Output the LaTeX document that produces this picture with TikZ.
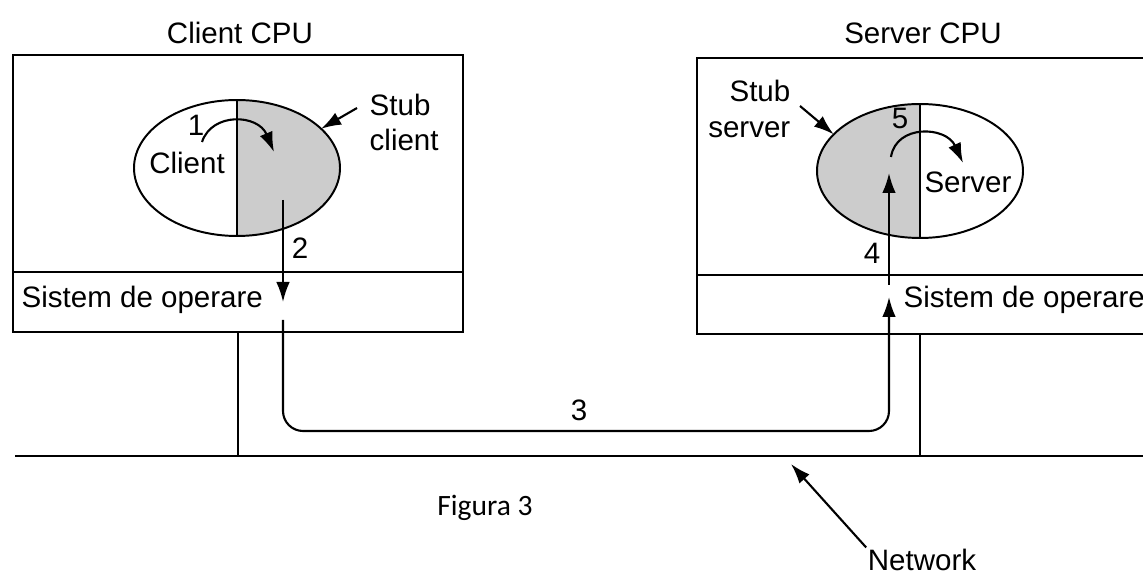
\documentclass[tikz,border=0pt]{standalone}
\usepackage{fontspec}
\setmainfont{Liberation Sans}
\newfontfamily\figfont{Carlito}
\usetikzlibrary{arrows.meta,positioning,calc,shapes.geometric}
\tikzset{
  cpu/.style      = {draw,line width=1.8pt,inner sep=0pt,outer sep=0pt},
  proc/.style     = {draw,ellipse,line width=1.4pt,inner sep=0pt,outer sep=0pt},
  stubfill/.style = {fill=gray!40},
  half/.style     = {line width=1.4pt},
  wire/.style     = {line width=1.6pt},
  sig/.style      = {-{Latex[length=5mm,width=3.4mm]},line width=1.5pt},
  lbl/.style      = {inner sep=1pt},
}

\begin{document}
\begin{tikzpicture}[font=\fontsize{21}{25}\selectfont]
  \useasboundingbox (0,0) rectangle (28.575,14.4);
  \clip (0,0) rectangle (28.575,14.4);

  % CPU boxes with the OS layer below
  \node[cpu,minimum width=11.25cm,minimum height=5.425cm] (cbox) at (5.95,10.3125) {};
  \node[cpu,minimum width=11.25cm,minimum height=1.5cm] (cos) at (5.95,6.85) {};
  \node[cpu,minimum width=11.275cm,minimum height=5.425cm] (sbox) at (23.0625,10.2375) {};
  \node[cpu,minimum width=11.275cm,minimum height=1.475cm] (sos) at (23.0625,6.7875) {};
  \node[lbl] (ctitle) at (6.0,13.575) {Client CPU};
  \node[lbl] (stitle) at (23.075,13.575) {Server CPU};
  \node[lbl,anchor=west] (cosl) at (0.5,6.9) {Sistem de operare};
  \node[lbl,anchor=west] (sosl) at (22.55,6.9) {Sistem de operare};

  % processes: client + stub, stub + server
  \fill[stubfill] (5.925,11.9) arc[start angle=90,end angle=-90,x radius=2.575cm,y radius=1.7cm] -- cycle;
  \fill[stubfill] (23.0,11.8) arc[start angle=90,end angle=270,x radius=2.575cm,y radius=1.675cm] -- cycle;
  \node[proc,minimum width=5.15cm,minimum height=3.4cm] (cell) at (5.925,10.2) {};
  \node[proc,minimum width=5.15cm,minimum height=3.35cm] (sell) at (23.0,10.125) {};
  \draw[half] (cell.north) -- (cell.south);
  \draw[half] (sell.north) -- (sell.south);
  \node[lbl] (cname) at (4.675,10.325) {Client};
  \node[lbl] (sname) at (24.2,9.85) {Server};
  \node[lbl,align=left,anchor=west] (stubc) at (9.2,11.34) {Stub\\client};
  \node[lbl,align=right,anchor=east] (stubs) at (19.8,11.675) {Stub\\server};
  \coordinate (sc0) at (8.925,11.7);
  \coordinate (ss0) at (20.0,11.75);
  \draw[sig] (sc0) -- (cell.25);
  \draw[sig] (ss0) -- (sell.157);

  % steps 1..5
  \coordinate (c1a) at (5.05,10.85);
  \coordinate (c1b) at (6.85,10.6);
  \draw[sig] (c1a) .. controls (5.3,11.6) and (6.45,11.55) .. (c1b);
  \node[lbl] (one) at (4.9,11.275) {1};
  \coordinate (c2a) at (7.075,9.4);
  \coordinate (c2b) at (7.075,6.85);
  \draw[sig] (c2a) -- (c2b);
  \node[lbl] (two) at (7.5,8.2) {2};
  \coordinate (c3a) at (7.075,6.4);
  \coordinate (low) at (7.075,3.625);
  \coordinate (s3b) at (22.225,6.975);
  \draw[sig,rounded corners=5mm] (c3a) -- (low) -| (s3b);
  \node[lbl] (three) at (14.475,4.15) {3};
  \coordinate (s4a) at (22.225,7.275);
  \coordinate (s4b) at (22.225,10.075);
  \draw[sig] (s4a) -- (s4b);
  \node[lbl] (four) at (21.8,8.075) {4};
  \coordinate (s5a) at (22.275,10.475);
  \coordinate (s5b) at (24.075,10.325);
  \draw[sig] (s5a) .. controls (22.4,11.3) and (23.65,11.25) .. (s5b);
  \node[lbl] (five) at (22.5,11.45) {5};

  % network
  \coordinate (netw) at (0.375,3.0);
  \coordinate (nete) at (28.7,3.0);
  \draw[wire] (netw) -- (nete);
  \draw[wire] (cos.south) -- (cos.south |- netw);
  \draw[wire] (sell.south |- sos.south) -- (sell.south |- netw);
  \node[lbl] (netl) at (23.05,0.4) {Network};
  \coordinate (ntip) at (19.775,2.8);
  \draw[sig] (netl.north west) -- (ntip);

  \node[lbl,font=\figfont\fontsize{21}{25}\selectfont] (fig) at (12.125,1.7) {Figura 3};
\end{tikzpicture}
\end{document}
